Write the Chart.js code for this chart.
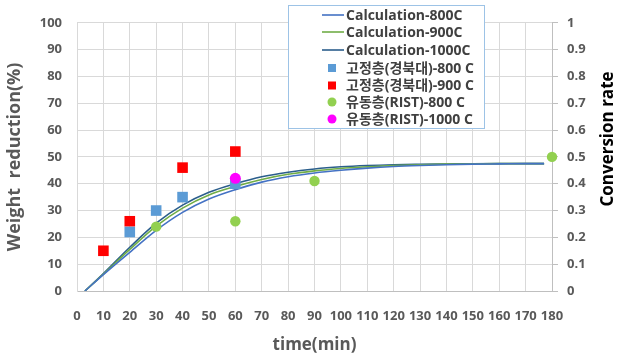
<!DOCTYPE html>
<html>
<head>
<meta charset="utf-8">
<script src="https://cdn.jsdelivr.net/npm/chart.js@4/dist/chart.umd.min.js"></script>
<style>
html,body{margin:0;padding:0;background:#fff;}
#wrap{width:625px;height:359px;position:relative;}
</style>
</head>
<body>
<div id="wrap"><canvas id="c" width="625" height="359"></canvas></div>
<script>
// ---- data ----
const calcTime = [3, 10, 20, 30, 40, 50, 60, 70, 80, 90, 100, 110, 120, 130, 140, 150, 160, 170, 177];
const calc800  = [0, 6.1, 14.4, 22.6, 29.3, 34.3, 37.8, 40.6, 42.6, 44.0, 45.0, 45.8, 46.4, 46.8, 47.1, 47.3, 47.4, 47.5, 47.5];
const calc900  = [0, 6.3, 15.5, 24.2, 30.9, 35.8, 39.0, 41.6, 43.5, 44.8, 45.7, 46.3, 46.8, 47.1, 47.3, 47.4, 47.5, 47.5, 47.5];
const calc1000 = [0, 6.5, 16.3, 25.3, 32.0, 36.8, 40.0, 42.6, 44.3, 45.5, 46.3, 46.8, 47.1, 47.25, 47.35, 47.45, 47.5, 47.5, 47.5];

const fixed800Time  = [20, 30, 40, 60];
const fixed800      = [22, 30, 35, 40];
const fixed900Time  = [10, 20, 40, 60];
const fixed900      = [15, 26, 46, 52];
const fluid800Time  = [30, 60, 90, 180];
const fluid800      = [24, 26, 41, 50];
const fluid1000Time = [60];
const fluid1000     = [42];

const xTicks = [0, 10, 20, 30, 40, 50, 60, 70, 80, 90, 100, 110, 120, 130, 140, 150, 160, 170, 180];
const yTicks = [0, 10, 20, 30, 40, 50, 60, 70, 80, 90, 100];
const y2Ticks = [0, 0.1, 0.2, 0.3, 0.4, 0.5, 0.6, 0.7, 0.8, 0.9, 1];

const labels = ['Calculation-800C', 'Calculation-900C', 'Calculation-1000C',
  '고정층(경북대)-800 C', '고정층(경북대)-900 C', '유동층(RIST)-800 C', '유동층(RIST)-1000 C'];

const pts = (xs, ys) => xs.map((x, i) => ({x: x, y: ys[i]}));

const FONT = '"Open Sans","Noto Sans CJK KR",sans-serif';
const GRAY = '#595959';

function lineDs(label, data, color) {
  return {type: 'line', label, data: pts(calcTime, data), borderColor: color, backgroundColor: color,
    borderWidth: 1.6, pointRadius: 0, cubicInterpolationMode: 'monotone', fill: false, order: 2, legendKind: 'line'};
}
function ptDs(label, xs, ys, color, style, r, order) {
  return {type: 'scatter', label, data: pts(xs, ys), backgroundColor: color, borderColor: color, borderWidth: 0,
    pointStyle: style, pointRadius: r, pointHoverRadius: r, showLine: false, clip: false, order: order, legendKind: style};
}

const legendPlugin = {
  id: 'boxLegend',
  afterDraw(chart) {
    const ctx = chart.ctx;
    const bx = 288, by = 5, bw = 196, bh = 123;
    ctx.save();
    ctx.fillStyle = '#ffffff';
    ctx.fillRect(bx, by, bw, bh);
    ctx.strokeStyle = '#9DC3E6';
    ctx.lineWidth = 1;
    ctx.strokeRect(bx + 0.5, by + 0.5, bw, bh);
    ctx.beginPath();
    ctx.rect(bx + 1, by + 1, bw - 1, bh - 1);
    ctx.clip();
    const rows = [15, 32, 50, 68, 85.5, 102, 119];
    chart.data.datasets.forEach((ds, i) => {
      const y = rows[i];
      if (ds.legendKind === 'line') {
        ctx.strokeStyle = ds.borderColor;
        ctx.lineWidth = 1.6;
        ctx.beginPath();
        ctx.moveTo(322, y); ctx.lineTo(344, y);
        ctx.stroke();
      } else if (ds.legendKind === 'rect') {
        ctx.fillStyle = ds.backgroundColor;
        ctx.fillRect(328, y - 4, 8, 8);
      } else {
        ctx.fillStyle = ds.backgroundColor;
        ctx.beginPath();
        ctx.arc(332, y, 4.5, 0, Math.PI * 2);
        ctx.fill();
      }
      ctx.fillStyle = '#404040';
      ctx.textBaseline = 'middle';
      ctx.textAlign = 'left';
      ctx.font = 'bold 14px ' + FONT;
      ctx.fillText(ds.label, 346, y + 1);
    });
    ctx.restore();

    // right axis title (reads bottom-to-top)
    ctx.save();
    ctx.translate(608, 139);
    ctx.rotate(-Math.PI / 2);
    ctx.font = 'bold 17px ' + FONT;
    ctx.fillStyle = '#000000';
    ctx.textAlign = 'center';
    ctx.textBaseline = 'middle';
    ctx.fillText('Conversion rate', 0, 0);
    ctx.restore();
  }
};

new Chart(document.getElementById('c'), {
  data: {
    datasets: [
      lineDs(labels[0], calc800, '#4472C4'),
      lineDs(labels[1], calc900, '#70AD47'),
      lineDs(labels[2], calc1000, '#2B5E8C'),
      ptDs(labels[3], fixed800Time, fixed800, '#5B9BD5', 'rect', 7.5, 1),
      ptDs(labels[4], fixed900Time, fixed900, '#FF0000', 'rect', 7.5, 1),
      ptDs(labels[5], fluid800Time, fluid800, '#92D050', 'circle', 5.2, 0),
      ptDs(labels[6], fluid1000Time, fluid1000, '#FF00FF', 'circle', 5.5, 0)
    ]
  },
  options: {
    responsive: false,
    animation: false,
    devicePixelRatio: 1,
    layout: {padding: {top: 21, left: 0, right: 0, bottom: 0}},
    plugins: {legend: {display: false}, tooltip: {enabled: false}},
    scales: {
      x: {
        type: 'linear', position: 'bottom', min: 0, max: 180,
        afterBuildTicks: s => { s.ticks = xTicks.map(v => ({value: v})); },
        afterFit: s => { s.height = 68; },
        ticks: {autoSkip: false, maxRotation: 0, minRotation: 0, padding: 17, color: GRAY,
          font: {family: FONT, size: 13, weight: 'bold'}},
        grid: {color: '#D9D9D9', drawTicks: false, lineWidth: 1},
        border: {color: '#BFBFBF'},
        title: {display: true, text: 'time(min)', color: GRAY, font: {family: FONT, size: 17, weight: 'bold'}, padding: {top: 4, bottom: 4}}
      },
      y: {
        type: 'linear', position: 'left', min: 0, max: 100,
        afterBuildTicks: s => { s.ticks = yTicks.map(v => ({value: v})); },
        afterFit: s => { s.width = 77; },
        ticks: {padding: 15, color: GRAY, font: {family: FONT, size: 13, weight: 'bold'}},
        grid: {color: '#D9D9D9', drawTicks: false},
        border: {color: '#D9D9D9'},
        title: {display: true, text: 'Weight  reduction(%)', color: GRAY, font: {family: FONT, size: 18, weight: 'bold'}, padding: {top: 4, bottom: 0}}
      },
      y1: {
        type: 'linear', position: 'right', min: 0, max: 1,
        afterBuildTicks: s => { s.ticks = y2Ticks.map(v => ({value: v})); },
        afterFit: s => { s.width = 73; },
        ticks: {padding: 9, color: GRAY, font: {family: FONT, size: 13, weight: 'bold'},
          callback: v => String(+v.toFixed(1))},
        grid: {drawOnChartArea: false, tickLength: 6, color: '#BFBFBF'},
        border: {color: '#BFBFBF'}
      }
    }
  },
  plugins: [legendPlugin]
});
</script>
</body>
</html>
